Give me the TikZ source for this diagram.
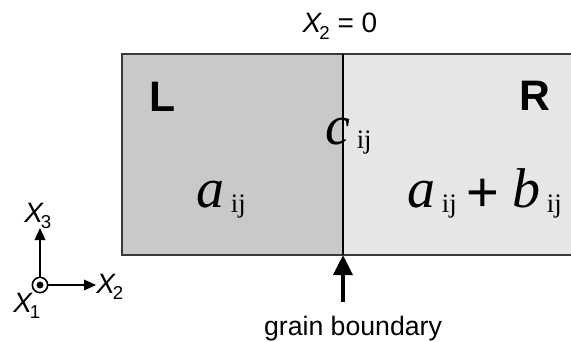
\documentclass[tikz,border=0pt]{standalone}
\usepackage{fontspec}
\setmainfont{Liberation Sans}
\newfontfamily\timesfont{Liberation Serif}
\usetikzlibrary{arrows.meta,positioning}
\definecolor{LeftGrey}{HTML}{C8C9CB}
\definecolor{RightGrey}{HTML}{E5E6E7}
\definecolor{Rim}{HTML}{3A3A3A}
\newcommand{\fsz}[1]{\fontsize{#1}{#1}\selectfont}
\newcommand{\coef}[2]{{\timesfont\fsz{42}\itshape #1}\hspace{5pt}\raisebox{-3pt}{\timesfont\fsz{20}#2}}
\newcommand{\axlab}[2]{{\fsz{21}\itshape #1}\kern-1.5pt\raisebox{-5pt}{\fsz{14}#2}}
\tikzset{
  txt/.style={inner sep=0pt, text=black},
  grainname/.style={inner sep=0pt, font=\fsz{32}\bfseries},
  axarrow/.style={-{Triangle[length=9pt, width=8pt]}, line width=1pt},
  bigarrow/.style={-{Triangle[length=15pt, width=14pt]}, line width=3pt}
}
\begin{document}
\begin{tikzpicture}[x=0.75pt, y=-0.75pt]
  \useasboundingbox (0,0) rectangle (571,342);
  % the two grains
  \fill[LeftGrey] (122,54) rectangle (343,255);
  \fill[RightGrey] (343,54) rectangle (571,255);
  \draw[Rim, line width=1pt] (571,54) -- (122,54) -- (122,255) -- (571,255);
  \coordinate (gbtop) at (343,54);
  \coordinate (gbfoot) at (343,255);
  \draw[line width=0.8pt] (gbtop) -- (gbfoot);
  % labels
  \node[txt, anchor=base] (plane) at (340,33) {\axlab{X}{2}\fsz{21} = 0};
  \node[grainname] (L) at (163,96.5) {L};
  \node[grainname] (R) at (535,95.5) {R};
  \node[txt, anchor=base west] (cij) at (325,145) {\coef{c}{ij}};
  \node[txt, anchor=base west] (aL) at (196,208) {\coef{a}{ij}};
  \node[txt, anchor=base west] (aR) at (407,208) {\coef{a}{ij}};
  \node[txt] (plus) at (483,195) {\fsz{42}+};
  \node[txt, anchor=base west] (bR) at (512,208) {\coef{b}{ij}};
  % grain boundary pointer
  \node[txt, anchor=base] (gb) at (353,335) {\fsz{20}grain boundary};
  \coordinate (gbtail) at (343,302);
  \draw[bigarrow] (gbtail) -- (gbfoot);
  % axes
  \node[draw, circle, line width=1.2pt, minimum size=11.5pt, inner sep=0pt] (o) at (40,285) {};
  \fill (o.center) circle (2.6pt);
  \coordinate (x3tip) at (40,228);
  \coordinate (x2tip) at (96,285);
  \draw[axarrow] (o.north) -- (x3tip);
  \draw[axarrow] (o.east) -- (x2tip);
  \node[txt, anchor=base west] (x3) at (24,222) {\axlab{X}{3}};
  \node[txt, anchor=base west] (x2) at (96,293) {\axlab{X}{2}};
  \node[txt, anchor=base west] (x1) at (13,312) {\axlab{X}{1}};
\end{tikzpicture}
\end{document}
